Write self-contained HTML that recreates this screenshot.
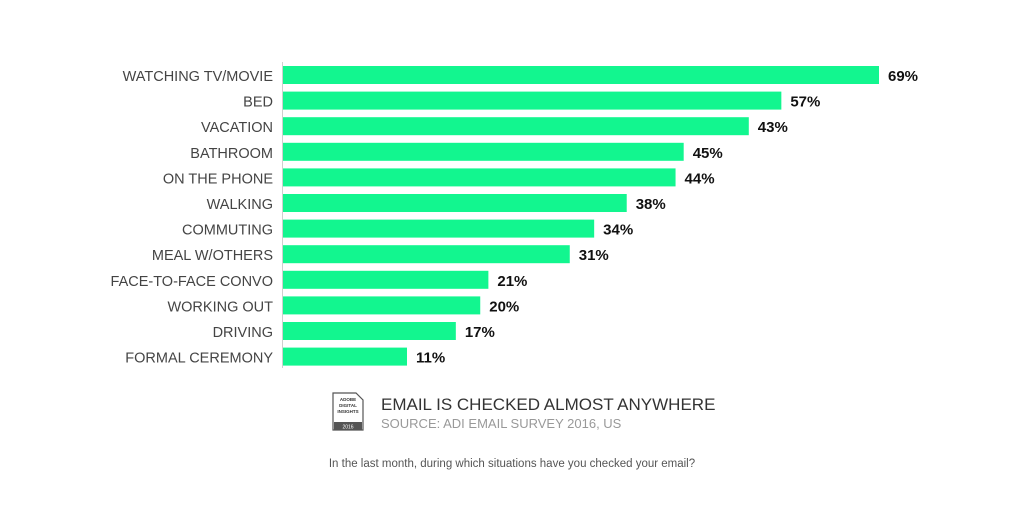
<!DOCTYPE html>
<html><head><meta charset="utf-8"><style>
body{margin:0;background:#fff;width:1024px;height:512px;overflow:hidden;font-family:"Liberation Sans",sans-serif}
</style></head><body>
<svg width="1024" height="512">
<g id="bars"></g>
<line x1="282.5" y1="62" x2="282.5" y2="368" stroke="#cfcfcf" stroke-width="1"/>
<g>
<path d="M333 393 H356 L363 400 V430 H333 Z" fill="#fff" stroke="#555" stroke-width="1.2"/>
<rect x="334" y="422" width="28" height="8" fill="#555"/>
<text x="348" y="401" font-size="4.5" font-weight="bold" text-anchor="middle" fill="#333">ADOBE</text>
<text x="348" y="407" font-size="4.5" font-weight="bold" text-anchor="middle" fill="#333">DIGITAL</text>
<text x="348" y="413" font-size="4.5" font-weight="bold" text-anchor="middle" fill="#333">INSIGHTS</text>
<text x="348" y="428.5" font-size="5" text-anchor="middle" fill="#fff">2016</text>
</g>
<text x="381" y="410" font-size="17" fill="#333">EMAIL IS CHECKED ALMOST ANYWHERE</text>
<text x="381" y="428" font-size="13" fill="#999">SOURCE: ADI EMAIL SURVEY 2016, US</text>
<text x="512" y="467" font-size="11.5" fill="#555" text-anchor="middle">In the last month, during which situations have you checked your email?</text>
</svg>
<script>
const categories=["WATCHING TV/MOVIE","BED","VACATION","BATHROOM","ON THE PHONE","WALKING","COMMUTING","MEAL W/OTHERS","FACE-TO-FACE CONVO","WORKING OUT","DRIVING","FORMAL CEREMONY"];
const values=[69,57,53,45,44,38,34,31,21,20,17,11];
const valueLabels=["69%","57%","43%","45%","44%","38%","34%","31%","21%","20%","17%","11%"];
const ns="http://www.w3.org/2000/svg";
const g=document.getElementById('bars');
const x0=283, pxPer=8.14, base=34;
function xLen(v){return base+(v-11)*pxPer+ (11*pxPer - base) - (11*pxPer-base);}
function xScale(v){return x0 + v*pxPer - (pxPer*11-124+0) + 0;}
// bar length = v*8.14 + offset so that 11 -> 124px, 69 -> 596px
function barLen(v){return 124 + (v-11)*(472/58);}
function yPos(i){return 66 + i*25.6;}
categories.forEach((c,i)=>{
  const y=yPos(i), w=barLen(values[i]);
  const r=document.createElementNS(ns,'rect');
  r.setAttribute('x',x0);r.setAttribute('y',y);r.setAttribute('width',w);r.setAttribute('height',18);r.setAttribute('fill','#12f68f');
  
  
  g.appendChild(r);
  const t=document.createElementNS(ns,'text');
  t.setAttribute('x',273);t.setAttribute('y',y+15);t.setAttribute('text-anchor','end');t.setAttribute('font-size','14.5');t.setAttribute('fill','#444');
  t.textContent=c;
  
  
  g.appendChild(t);
  const v=document.createElementNS(ns,'text');
  v.setAttribute('x',x0+w+9);v.setAttribute('y',y+15);v.setAttribute('font-size','15');v.setAttribute('font-weight','bold');v.setAttribute('fill','#111');
  v.textContent=valueLabels[i];
  
  
  g.appendChild(v);
});
</script>
</body></html>
